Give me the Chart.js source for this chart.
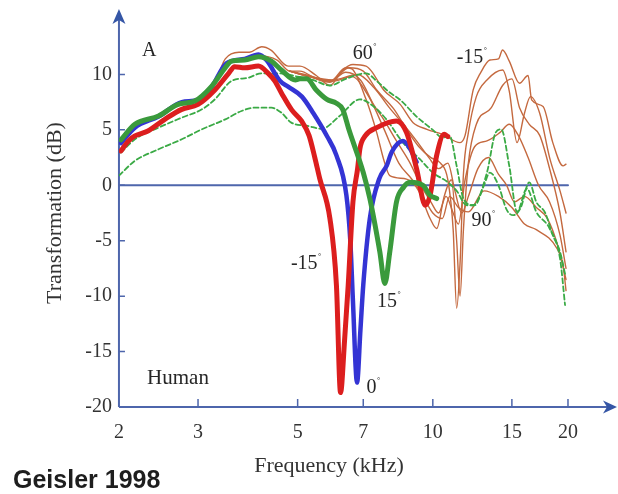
<!DOCTYPE html>
<html>
<head>
<meta charset="utf-8">
<script src="https://cdn.jsdelivr.net/npm/chart.js@4.4.1/dist/chart.umd.min.js"></script>
<style>
  body { margin: 0; background: #fff; }
  #wrap { position: relative; width: 618px; height: 494px; }
  #credit { position: absolute; left: 13px; top: 466px; font: bold 25px "Liberation Sans", Arial, sans-serif; color: #1e1e1e; line-height: 26px; }
</style>
</head>
<body>
<div id="wrap">
  <canvas id="chart" width="618" height="494"></canvas>
  <div id="credit">Geisler 1998</div>
</div>
<script>
// tick labels
const xTicks = [2, 3, 5, 7, 10, 15, 20];
const yTicks = [-20, -15, -10, -5, 0, 5, 10];
const xTitle = 'Frequency (kHz)';
const yTitle = 'Transformation (dB)';

// [frequency kHz, transformation dB]
const red = [[2.02,3.1],[2.1,4.0],[2.17,4.45],[2.32,4.9],[2.53,5.95],[2.76,6.85],[3.0,7.3],[3.27,8.6],[3.51,10.1],[3.62,10.7],[3.81,10.6],[4.09,10.75],[4.3,10.1],[4.45,9.4],[4.62,8.2],[4.85,6.8],[5.1,5.8],[5.3,4.5],[5.46,2.5],[5.6,0.6],[5.9,-3.0],[6.1,-9.0],[6.23,-18.7],[6.36,-14.0],[6.48,-9.0],[6.64,-1.5],[6.8,1.5],[6.88,3.3],[7.07,4.45],[7.5,5.2],[8.3,5.8],[8.74,4.75],[9.2,1.5],[9.62,-1.8],[9.86,-0.9],[10.2,2.7],[10.6,4.6],[10.8,4.4]];
const blue = [[2.02,3.8],[2.17,5.2],[2.45,6.2],[2.76,7.5],[3.0,7.7],[3.22,8.9],[3.47,11.0],[3.81,11.4],[4.09,11.8],[4.26,11.3],[4.57,9.4],[4.76,8.9],[5.11,8.0],[5.42,6.5],[5.81,4.45],[6.1,2.7],[6.42,-0.9],[6.55,-5.0],[6.64,-10.5],[6.78,-17.8],[6.9,-13.0],[7.0,-9.0],[7.24,-3.0],[7.6,0.6],[7.9,1.8],[8.1,3.0],[8.58,4.0],[8.9,3.3],[9.2,2.1]];
const green = [[2.02,4.1],[2.17,5.5],[2.45,6.25],[2.71,7.3],[2.95,7.6],[3.22,8.95],[3.45,10.6],[3.56,11.2],[3.81,11.3],[4.09,11.6],[4.37,11.2],[4.6,10.4],[4.94,9.5],[5.06,9.6],[5.24,9.6],[5.5,8.6],[5.81,7.75],[6.1,7.4],[6.3,6.85],[6.5,5.05],[7.0,1.15],[7.24,-1.2],[7.62,-6.0],[7.82,-8.85],[8.02,-6.0],[8.3,-1.5],[8.6,-0.2],[8.9,0.27],[9.5,0.0],[9.86,-0.9],[10.2,-1.2]];
const dashUpper = [[2.02,2.95],[2.17,4.15],[2.45,5.2],[2.76,6.1],[3.06,6.85],[3.27,7.75],[3.56,9.4],[3.88,9.7],[4.15,10.1],[4.57,10.1],[5.0,9.8],[5.4,9.5],[5.9,9.0],[6.4,9.6],[7.1,10.1],[7.5,9.4],[8.0,8.4],[8.46,7.7],[9.2,6.2],[10.0,5.0],[10.5,4.3],[10.9,4.45],[11.3,1.75],[11.7,-1.2],[12.3,-1.8],[13.2,1.15],[13.8,4.75],[14.2,5.05],[14.8,1.75],[15.4,-2.4],[16.2,-0.3],[17.0,-2.4],[18.2,-3.9],[19.2,-6.6],[19.7,-10.8]];
const dashLower = [[2.0,0.87],[2.17,2.2],[2.45,3.25],[2.76,4.15],[3.06,5.05],[3.45,5.95],[3.75,6.7],[4.01,7.0],[4.37,7.0],[4.6,6.55],[4.84,5.65],[5.27,5.35],[5.66,5.1],[6.2,6.25],[6.88,7.75],[7.36,7.15],[7.88,5.95],[8.58,3.85],[9.36,2.35],[10.0,1.15],[10.8,0.27],[11.3,-0.5],[11.9,-1.8],[12.4,-1.8],[13.0,0.0],[13.4,1.15],[14.0,0.0],[14.6,-2.2],[15.1,-2.7],[15.7,-2.0],[16.4,0.27],[17.0,-1.5],[17.8,-2.5],[18.5,-4.5],[19.2,-6.0],[19.7,-8.0]];
const brown1 = [[3.35,10.3],[3.45,11.4],[3.7,12.0],[3.9,12.0],[4.16,12.5],[4.36,12.2],[4.76,10.75],[5.06,10.75],[5.5,9.9],[5.9,9.0],[6.3,10.4],[6.64,10.9],[7.1,10.75],[7.3,10.3],[7.77,8.6],[8.46,7.3],[9.04,5.65],[9.7,5.05],[10.5,4.6],[11.5,3.85],[11.8,4.5],[12.3,8.6],[12.8,10.2],[13.4,11.3],[14.0,11.4],[14.3,12.2],[14.8,11.2],[15.6,9.2],[16.3,9.9],[16.6,7.7],[17.6,7.1],[18.5,3.85],[19.5,1.75],[19.8,1.9]];
const brown2 = [[3.6,11.2],[4.1,11.7],[4.5,11.3],[4.8,10.3],[5.06,10.3],[5.5,9.6],[5.9,9.3],[6.5,10.6],[7.0,10.3],[7.5,8.6],[8.2,6.85],[8.74,5.05],[9.3,3.5],[9.9,2.5],[10.4,2.0],[10.8,0.5],[11.1,-4.0],[11.3,-11.1],[11.5,-7.0],[11.7,1.0],[12.0,4.75],[12.5,8.0],[13.2,9.5],[14.3,10.4],[14.8,8.5],[15.4,3.85],[16.0,6.5],[16.5,8.0],[17.3,6.5],[18.2,2.5],[19.2,-0.5],[19.8,-2.5]];
const brown3 = [[4.8,10.3],[5.3,9.9],[5.9,9.35],[6.4,10.6],[6.6,10.5],[7.1,7.75],[7.5,4.75],[7.77,2.35],[8.02,0.87],[8.74,0.56],[9.3,-0.5],[9.86,-3.0],[10.2,-3.9],[10.6,-1.0],[11.0,0.5],[11.3,-5.0],[11.5,-10.0],[11.7,-4.0],[12.0,2.0],[12.5,5.5],[13.5,7.0],[14.3,9.0],[15.0,9.6],[15.6,7.0],[16.4,5.5],[17.3,4.5],[18.2,1.5],[19.2,-2.5],[19.8,-6.0]];
const brown4 = [[4.8,10.3],[5.3,9.8],[5.9,9.4],[6.4,10.2],[6.9,9.5],[7.4,7.2],[7.77,5.95],[8.3,4.0],[8.9,2.0],[9.4,0.0],[9.9,-1.5],[10.3,-2.5],[10.7,-1.0],[11.1,-2.5],[11.4,-3.5],[11.8,0.5],[12.4,3.5],[13.2,4.0],[14.1,4.75],[14.8,5.5],[15.5,4.5],[16.3,2.5],[17.2,0.0],[18.2,-1.5],[19.2,-4.5],[19.8,-7.5]];
const brown5 = [[4.8,10.3],[5.2,9.9],[6.0,9.5],[6.8,10.0],[7.4,8.8],[8.0,7.0],[8.6,5.5],[9.2,4.0],[9.8,2.5],[10.3,1.5],[10.8,2.0],[11.2,-0.5],[11.6,-2.5],[12.0,-1.0],[12.6,1.5],[13.3,2.5],[14.0,1.0],[14.6,0.0],[15.2,-1.5],[16.0,-1.0],[17.0,-2.0],[18.0,-3.0],[19.0,-5.5],[19.8,-8.5]];
const brown6 = [[4.8,10.3],[5.2,9.9],[6.0,9.4],[6.6,9.8],[7.2,8.0],[7.8,5.0],[8.4,2.0],[9.0,0.5],[9.5,-1.0],[10.0,-2.5],[10.5,-3.0],[10.9,-1.0],[11.4,-2.0],[12.0,-2.4],[13.0,-0.5],[14.0,-1.0],[15.0,-2.0],[16.0,-3.5],[17.0,-4.0],[18.9,-5.7],[19.5,-7.2],[19.8,-9.5]];
const zeroLine = [[2, 0], [20, 0]];

// text placed on the plot: [text, frequency, dB, degree mark]
const notes = [
  ['A', 2.25, 12.1, false],
  ['60', 6.63, 11.85, true],
  ['-15', 11.3, 11.5, true],
  ['90', 12.2, -3.2, true],
  ['-15', 4.83, -7.1, true],
  ['15', 7.51, -10.5, true],
  ['0', 7.12, -18.3, true],
  ['Human', 2.31, -17.4, false]
];

const AXIS = '#4e66ac';
const SERIF = '"Liberation Serif", "Times New Roman", serif';
const pts = arr => arr.map(p => ({ x: p[0], y: p[1] }));

function curve(data, color, width, order, dash) {
  return {
    data: pts(data),
    borderColor: color,
    borderWidth: width,
    borderDash: dash || [],
    borderCapStyle: 'round',
    borderJoinStyle: 'round',
    cubicInterpolationMode: 'monotone',
    pointRadius: 0,
    fill: false,
    order: order
  };
}

const axisPlugin = {
  id: 'axisPlugin',
  beforeDatasetsDraw(chart) {
    const { ctx, chartArea, scales: { x, y } } = chart;
    const left = chartArea.left, bottom = chartArea.bottom;
    ctx.save();
    ctx.strokeStyle = AXIS;
    ctx.fillStyle = '#3556a6';
    ctx.lineWidth = 2;
    ctx.beginPath();
    ctx.moveTo(left, bottom);
    ctx.lineTo(left, 18);
    ctx.moveTo(left, bottom);
    ctx.lineTo(chartArea.right, bottom);
    ctx.stroke();
    // inward tick marks
    ctx.lineWidth = 1.5;
    ctx.beginPath();
    yTicks.slice(1).forEach(v => {
      const py = y.getPixelForValue(v);
      ctx.moveTo(left, py);
      ctx.lineTo(left + 6, py);
    });
    xTicks.slice(1).forEach(v => {
      const px = x.getPixelForValue(v);
      ctx.moveTo(px, bottom);
      ctx.lineTo(px, bottom - 8);
    });
    ctx.stroke();
    // arrow heads
    ctx.beginPath();
    ctx.moveTo(left, 9);
    ctx.lineTo(left - 6.5, 24);
    ctx.lineTo(left, 20);
    ctx.lineTo(left + 6.5, 24);
    ctx.closePath();
    ctx.fill();
    ctx.beginPath();
    ctx.moveTo(617, bottom);
    ctx.lineTo(603, bottom - 6.5);
    ctx.lineTo(607, bottom);
    ctx.lineTo(603, bottom + 6.5);
    ctx.closePath();
    ctx.fill();
    ctx.restore();
  },
  afterDatasetsDraw(chart) {
    const { ctx, scales: { x, y } } = chart;
    ctx.save();
    ctx.fillStyle = '#262626';
    ctx.textAlign = 'left';
    ctx.textBaseline = 'middle';
    notes.forEach(([text, f, v, deg]) => {
      const px = x.getPixelForValue(f);
      const py = y.getPixelForValue(v);
      ctx.font = (text === 'Human' ? 21 : 20) + 'px ' + SERIF;
      ctx.fillText(text, px, py);
      if (deg) {
        const w = ctx.measureText(text).width;
        ctx.font = '8px ' + SERIF;
        ctx.fillText('°', px + w + 0.5, py - 7);
      }
    });
    // x axis title sits left of the plot centre in the original
    ctx.fillStyle = '#333';
    ctx.textAlign = 'center';
    ctx.font = '22px ' + SERIF;
    ctx.fillText(xTitle, 329, 466);
    ctx.restore();
  }
};

new Chart(document.getElementById('chart').getContext('2d'), {
  type: 'line',
  data: {
    datasets: [
      curve(zeroLine, AXIS, 2, 20),
      curve(brown1, '#c4693f', 1.4, 10),
      curve(brown2, '#c4693f', 1.4, 10),
      curve(brown3, '#c4693f', 1.4, 10),
      curve(brown4, '#c4693f', 1.4, 10),
      curve(brown5, '#c4693f', 1.4, 10),
      curve(brown6, '#c4693f', 1.4, 10),
      curve(dashUpper, '#3aaa45', 1.8, 6, [5, 3]),
      curve(dashLower, '#3aaa45', 1.8, 6, [5, 3]),
      curve(blue, '#3434d4', 4.5, 3),
      curve(red, '#dc1e1e', 5, 2),
      curve(green, '#3a9a3c', 5, 1)
    ]
  },
  options: {
    responsive: false,
    animation: false,
    layout: { padding: { left: 20, right: 6.5, top: 16, bottom: 35 } },
    plugins: { legend: { display: false }, tooltip: { enabled: false } },
    scales: {
      x: {
        type: 'logarithmic',
        min: 2,
        max: 25,
        afterBuildTicks: s => { s.ticks = xTicks.map(v => ({ value: v })); },
        grid: { display: false, drawTicks: false },
        border: { display: false },
        ticks: {
          font: { family: SERIF, size: 20 },
          color: '#333',
          padding: 14,
          maxRotation: 0,
          autoSkip: false,
          callback: v => String(v)
        },
        title: { display: false }
      },
      y: {
        min: -20,
        max: 15,
        afterBuildTicks: s => { s.ticks = yTicks.map(v => ({ value: v })); },
        grid: { display: false, drawTicks: false },
        border: { display: false },
        ticks: {
          font: { family: SERIF, size: 20 },
          color: '#333',
          padding: 7,
          autoSkip: false,
          callback: v => String(v)
        },
        title: {
          display: true,
          text: yTitle,
          font: { family: SERIF, size: 22 },
          color: '#333',
          padding: { top: 21.8, bottom: 10.1 }
        }
      }
    }
  },
  plugins: [axisPlugin]
});
</script>
</body>
</html>
